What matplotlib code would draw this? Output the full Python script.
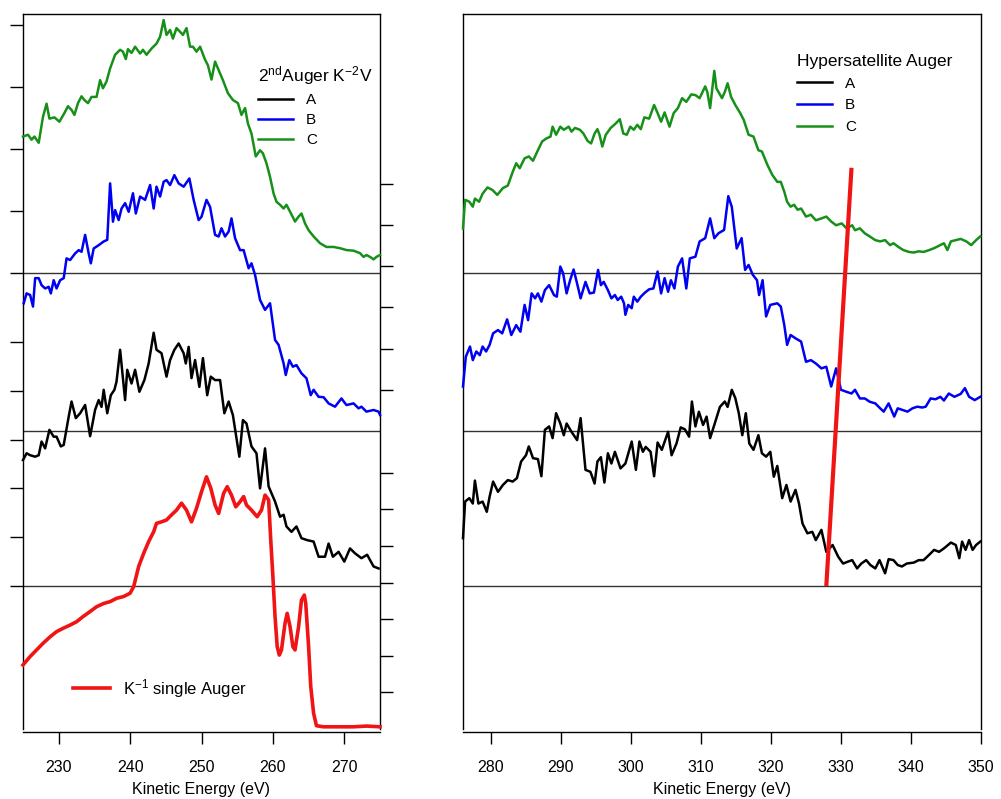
import matplotlib
matplotlib.use("Agg")
import matplotlib.pyplot as plt

plt.rcParams['font.family'] = ['Liberation Sans', 'DejaVu Sans']
plt.rcParams['mathtext.fontset'] = 'custom'
plt.rcParams['mathtext.rm'] = 'Liberation Sans'
plt.rcParams['mathtext.it'] = 'Liberation Sans:italic'
plt.rcParams['axes.linewidth'] = 1.0

# ---------------- data: 2nd Auger K^-2 V spectra (left panel) ----------------
aug2_C_E = [225.0, 225.7, 226.2, 226.6, 227.2, 227.8, 228.3, 228.7, 229.4, 230.1, 230.8, 231.3,
            231.8, 232.2, 232.7, 233.2, 233.6, 234.1, 234.6, 235.3, 235.8, 236.2, 236.7, 237.2,
            237.9, 238.6, 239.0, 239.4, 239.7, 240.2, 240.7, 241.4, 241.8, 242.3, 243.0, 243.7,
            244.2, 244.7, 245.1, 245.6, 246.0, 246.5, 247.0, 247.4, 247.9, 248.4, 248.8, 249.3,
            249.8, 250.5, 250.9, 251.4, 251.9, 252.3, 253.0, 253.7, 254.4, 255.1, 255.6, 256.1,
            256.5, 257.0, 257.6, 258.2, 258.6, 259.1, 259.6, 260.1, 260.5, 261.0, 261.5, 261.9,
            262.4, 263.1, 263.6, 264.0, 264.5, 265.0, 265.7, 266.6, 267.5, 268.5, 269.4, 270.3,
            271.3, 272.2, 272.7, 273.1, 273.6, 274.1, 274.5, 275.0]
aug2_C_I = [2.20, 2.23, 2.15, 2.20, 2.10, 2.52, 2.73, 2.49, 2.51, 2.44, 2.58, 2.69,
            2.63, 2.55, 2.74, 2.85, 2.79, 2.74, 2.84, 2.84, 3.11, 2.98, 3.09, 3.30,
            3.52, 3.60, 3.57, 3.45, 3.61, 3.55, 3.65, 3.54, 3.60, 3.52, 3.62, 3.70,
            3.81, 4.08, 3.84, 3.92, 3.78, 3.95, 3.89, 3.84, 3.95, 3.65, 3.65, 3.57,
            3.65, 3.44, 3.35, 3.12, 3.41, 3.30, 3.11, 2.90, 2.79, 2.74, 2.55, 2.66,
            2.41, 2.25, 1.88, 1.98, 1.93, 1.77, 1.55, 1.28, 1.15, 1.10, 1.04, 1.10,
            0.99, 0.83, 0.91, 0.96, 0.80, 0.69, 0.59, 0.48, 0.42, 0.42, 0.40, 0.37,
            0.36, 0.32, 0.26, 0.29, 0.26, 0.22, 0.26, 0.29]

aug2_B_E = [225.1, 225.5, 226.0, 226.4, 226.7, 227.2, 227.6, 228.1, 228.6, 228.9, 229.3, 229.7,
            230.2, 230.7, 231.1, 231.6, 232.3, 232.8, 233.2, 233.7, 234.2, 234.5, 234.9, 235.6,
            236.3, 236.8, 237.2, 237.6, 237.9, 238.4, 238.8, 239.3, 239.8, 240.4, 240.8, 241.4,
            242.1, 242.8, 243.3, 243.7, 244.2, 244.7, 245.1, 245.6, 246.2, 246.8, 247.5, 248.3,
            248.9, 249.6, 250.0, 250.7, 251.2, 251.9, 252.4, 252.8, 253.3, 253.8, 254.2, 254.7,
            255.4, 255.9, 256.6, 257.0, 257.5, 258.2, 258.9, 259.6, 260.3, 260.8, 261.5, 261.8,
            262.3, 262.8, 263.3, 264.0, 264.7, 265.3, 265.7, 266.4, 267.1, 267.8, 268.7, 269.6,
            270.3, 271.3, 272.0, 272.4, 273.1, 274.1, 274.8, 275.0]
aug2_B_I = [3.10, 3.34, 3.30, 3.02, 3.71, 3.71, 3.54, 3.46, 3.50, 3.34, 3.66, 3.46,
            3.66, 3.71, 4.19, 4.15, 4.31, 4.39, 4.35, 4.76, 4.31, 4.07, 4.43, 4.51,
            4.60, 4.64, 6.01, 5.08, 5.36, 5.12, 5.40, 5.53, 5.32, 5.77, 5.28, 5.69,
            5.61, 5.97, 5.40, 5.93, 5.69, 6.05, 6.09, 5.97, 6.21, 6.01, 5.93, 6.13,
            5.61, 5.12, 5.20, 5.61, 5.44, 4.76, 4.72, 4.92, 4.72, 4.84, 5.16, 4.68,
            4.39, 4.39, 3.95, 4.07, 3.79, 3.18, 2.94, 3.10, 2.21, 2.09, 1.64, 1.36,
            1.72, 1.56, 1.60, 1.40, 1.28, 0.87, 1.00, 0.83, 0.82, 0.67, 0.59, 0.79,
            0.63, 0.67, 0.55, 0.59, 0.47, 0.51, 0.47, 0.39]

aug2_A_E = [225.0, 225.5, 226.0, 226.7, 227.2, 227.6, 228.1, 228.7, 229.3, 229.7, 230.3, 230.7,
            231.4, 231.8, 232.4, 233.0, 233.7, 234.4, 235.1, 235.6, 236.0, 236.3, 236.8, 237.3,
            237.8, 238.1, 238.6, 239.3, 239.6, 240.2, 240.7, 241.3, 242.0, 242.6, 243.3, 243.7,
            244.4, 245.1, 245.6, 246.2, 246.8, 247.5, 247.8, 248.2, 248.6, 249.1, 249.7, 250.2,
            250.8, 251.3, 251.9, 252.6, 253.2, 253.8, 254.4, 255.3, 255.8, 256.3, 257.0, 257.7,
            258.2, 258.9, 259.4, 260.3, 261.0, 261.5, 261.9, 262.6, 263.3, 264.0, 264.8, 265.7,
            266.4, 267.3, 267.8, 268.4, 269.2, 270.0, 270.8, 271.5, 272.4, 273.2, 274.1, 274.8]
aug2_A_I = [2.58, 2.72, 2.68, 2.65, 2.68, 2.96, 2.82, 3.20, 3.06, 3.06, 2.86, 2.89,
            3.47, 3.78, 3.44, 3.54, 3.71, 3.07, 3.61, 3.81, 3.67, 4.02, 3.54, 3.91,
            4.02, 4.19, 4.84, 3.81, 4.43, 4.15, 4.43, 3.98, 4.22, 4.56, 5.19, 4.84,
            4.77, 4.29, 4.63, 4.84, 4.97, 4.77, 4.56, 4.90, 4.26, 4.63, 4.08, 4.67,
            3.91, 4.29, 4.22, 4.22, 3.54, 3.78, 3.50, 2.65, 3.40, 3.33, 2.86, 2.72,
            2.00, 2.82, 2.04, 1.73, 1.42, 1.46, 1.22, 1.11, 1.22, 0.98, 0.94, 0.91,
            0.60, 0.60, 0.87, 0.60, 0.70, 0.50, 0.77, 0.67, 0.57, 0.64, 0.40, 0.36]

# K^-1 single Auger reference spectrum
single_E = [225.0, 226.0, 226.9, 227.8, 228.8, 229.7, 230.6, 231.6, 232.5, 233.4, 234.4, 235.3,
            236.3, 237.2, 238.1, 239.1, 240.0, 240.5, 241.2, 241.9, 242.6, 243.3, 243.7, 244.4,
            245.1, 245.8, 246.5, 247.2, 247.9, 248.6, 249.3, 250.0, 250.7, 251.3, 251.9, 252.4,
            253.1, 253.6, 254.2, 254.8, 255.4, 255.9, 256.3, 257.0, 257.8, 258.4, 258.9, 259.4,
            259.7, 260.0, 260.3, 260.6, 260.9, 261.2, 261.7, 262.0, 262.4, 262.8, 263.1, 263.6,
            264.0, 264.4, 264.6, 265.0, 265.3, 265.7, 266.1, 267.1, 268.9, 271.3, 273.1, 275.0]
single_I = [1.75, 1.98, 2.16, 2.34, 2.52, 2.66, 2.75, 2.84, 2.93, 3.07, 3.21, 3.34,
            3.43, 3.48, 3.57, 3.62, 3.71, 3.89, 4.44, 4.80, 5.12, 5.39, 5.62, 5.66,
            5.71, 5.85, 5.98, 6.17, 5.98, 5.66, 6.03, 6.48, 6.89, 6.58, 6.12, 5.89,
            6.44, 6.62, 6.39, 6.07, 6.21, 6.35, 6.12, 5.98, 5.80, 5.98, 6.39, 6.26,
            5.16, 4.16, 3.07, 2.25, 2.02, 2.16, 2.89, 3.16, 2.80, 2.25, 2.16, 2.80,
            3.52, 3.66, 3.43, 2.25, 1.16, 0.43, 0.09, 0.06, 0.06, 0.06, 0.08, 0.06]

# ---------------- data: hypersatellite Auger spectra (right panel) ----------------
hyp_C_E = [276.0, 276.3, 276.9, 277.4, 277.7, 278.3, 278.8, 279.5, 280.2, 280.9, 281.7, 282.4,
           283.1, 283.6, 284.1, 284.8, 285.4, 286.0, 286.7, 287.3, 287.9, 288.5, 288.8, 289.3,
           289.9, 290.4, 291.1, 291.5, 292.0, 292.7, 293.2, 293.8, 294.3, 294.8, 295.2, 295.5,
           295.9, 296.4, 297.1, 297.8, 298.4, 298.9, 299.4, 299.9, 300.4, 300.9, 301.4, 301.9,
           302.6, 303.3, 303.8, 304.3, 304.8, 305.5, 306.1, 306.7, 307.3, 307.9, 308.6, 309.2,
           309.8, 310.6, 310.9, 311.3, 311.9, 312.2, 313.0, 313.4, 313.8, 314.3, 314.9, 315.6,
           316.1, 316.8, 317.5, 318.2, 318.7, 319.5, 320.2, 320.9, 321.4, 321.9, 322.3, 322.8,
           323.3, 323.8, 324.3, 325.0, 325.7, 326.4, 327.2, 327.9, 328.6, 329.3, 330.1, 330.8,
           331.6, 332.0, 332.7, 333.4, 334.1, 334.9, 335.6, 336.3, 337.0, 337.5, 338.2, 338.9,
           339.7, 340.4, 341.1, 341.8, 342.6, 343.3, 344.0, 344.7, 345.2, 345.7, 346.4, 347.1,
           347.9, 348.6, 349.3, 349.9]
hyp_C_I = [0.72, 1.18, 1.15, 1.07, 1.20, 1.15, 1.28, 1.38, 1.34, 1.26, 1.37, 1.41,
           1.63, 1.77, 1.69, 1.85, 1.88, 1.81, 1.98, 2.12, 2.17, 2.20, 2.36, 2.23,
           2.36, 2.31, 2.36, 2.28, 2.34, 2.31, 2.25, 2.13, 2.09, 2.25, 2.32, 2.23,
           2.04, 2.23, 2.34, 2.41, 2.48, 2.25, 2.23, 2.36, 2.31, 2.39, 2.32, 2.51,
           2.49, 2.71, 2.58, 2.44, 2.59, 2.36, 2.58, 2.66, 2.82, 2.76, 2.88, 2.87,
           2.82, 3.01, 2.92, 2.66, 3.26, 2.98, 2.82, 2.92, 3.06, 2.84, 2.71, 2.58,
           2.47, 2.23, 2.20, 1.98, 1.96, 1.74, 1.58, 1.47, 1.47, 1.31, 1.15, 1.07,
           1.10, 1.02, 1.04, 0.91, 0.94, 0.85, 0.88, 0.91, 0.83, 0.77, 0.80, 0.72,
           0.77, 0.69, 0.72, 0.64, 0.59, 0.53, 0.51, 0.53, 0.45, 0.48, 0.42, 0.37,
           0.34, 0.33, 0.35, 0.34, 0.37, 0.40, 0.44, 0.48, 0.37, 0.51, 0.53, 0.55,
           0.51, 0.45, 0.53, 0.59]

hyp_B_E = [276.0, 276.4, 277.0, 277.4, 277.9, 278.4, 278.8, 279.3, 279.8, 280.3, 281.0, 281.6,
           282.3, 282.9, 283.6, 284.2, 284.8, 285.3, 285.8, 286.3, 286.7, 287.2, 287.7, 288.3,
           289.0, 289.4, 289.9, 290.3, 290.8, 291.3, 291.8, 292.3, 292.8, 293.5, 294.1, 294.7,
           295.3, 295.7, 296.1, 296.7, 297.2, 297.7, 298.1, 298.6, 299.0, 299.2, 299.6, 300.1,
           300.4, 300.9, 301.4, 302.0, 302.6, 303.2, 303.8, 304.3, 304.8, 305.3, 305.7, 306.2,
           306.7, 307.3, 307.9, 308.4, 309.2, 309.8, 310.6, 311.3, 311.9, 312.5, 313.3, 313.9,
           314.4, 315.1, 315.8, 316.3, 316.8, 317.4, 318.0, 318.3, 318.8, 319.3, 319.9, 320.9,
           321.4, 321.9, 322.3, 322.8, 323.5, 324.3, 325.0, 325.7, 326.4, 327.2, 327.9, 328.6,
           329.3, 330.0, 330.8, 331.5, 332.0, 332.7, 333.4, 334.1, 334.9, 335.6, 336.1, 336.8,
           337.6, 338.1, 338.8, 339.5, 340.2, 340.9, 341.6, 342.1, 342.8, 343.5, 344.2, 344.7,
           345.4, 346.2, 347.1, 347.7, 348.3, 349.1, 349.9]
hyp_B_I = [1.08, 1.80, 2.05, 1.72, 1.93, 1.84, 2.05, 1.93, 2.09, 2.37, 2.45, 2.37,
           2.71, 2.33, 2.57, 2.41, 3.06, 2.69, 3.34, 3.22, 3.34, 3.14, 3.42, 3.54,
           3.30, 3.26, 3.99, 3.83, 3.34, 3.66, 3.92, 3.58, 3.22, 3.62, 3.34, 3.36,
           3.91, 3.54, 3.62, 3.42, 3.22, 3.30, 3.18, 3.26, 3.10, 2.82, 3.06, 2.98,
           3.26, 3.14, 3.26, 3.36, 3.44, 3.46, 3.87, 3.34, 3.71, 3.38, 3.66, 3.46,
           3.99, 4.19, 3.46, 4.19, 4.23, 4.60, 4.68, 5.16, 4.68, 4.80, 4.88, 5.70,
           5.44, 4.43, 4.68, 3.91, 4.03, 3.79, 3.66, 3.30, 3.66, 2.78, 3.06, 3.10,
           3.02, 2.57, 2.09, 2.33, 2.25, 2.17, 1.68, 1.72, 1.64, 1.52, 1.56, 1.08,
           1.52, 1.00, 0.95, 0.91, 1.00, 0.79, 0.79, 0.71, 0.67, 0.55, 0.47, 0.67,
           0.35, 0.55, 0.51, 0.47, 0.55, 0.59, 0.57, 0.59, 0.79, 0.77, 0.83, 0.74,
           0.91, 0.83, 0.90, 1.04, 0.83, 0.75, 0.83]

hyp_A_E = [276.0, 276.3, 276.9, 277.4, 277.7, 278.2, 278.8, 279.4, 279.8, 280.3, 281.0, 281.7,
           282.4, 283.1, 283.7, 284.3, 285.0, 285.4, 286.0, 286.7, 287.2, 287.7, 288.3, 288.8,
           289.3, 289.9, 290.4, 290.8, 291.5, 292.3, 292.8, 293.5, 294.2, 294.8, 295.2, 295.7,
           296.2, 296.7, 297.2, 297.7, 298.5, 299.2, 300.1, 300.7, 301.2, 301.7, 302.1, 302.8,
           303.3, 303.8, 304.4, 305.3, 305.8, 306.5, 307.1, 307.7, 308.3, 308.7, 309.2, 309.7,
           310.3, 310.8, 311.3, 311.9, 312.7, 313.4, 313.8, 314.4, 314.9, 315.4, 315.9, 316.4,
           316.9, 317.5, 318.2, 318.7, 319.3, 319.9, 320.4, 320.9, 321.6, 322.2, 322.8, 323.5,
           324.0, 324.5, 325.2, 325.9, 326.4, 327.2, 327.9, 328.8, 329.6, 330.3, 331.0, 331.6,
           332.3, 332.9, 333.6, 334.2, 334.9, 335.5, 336.3, 336.8, 337.5, 338.1, 338.7, 339.4,
           340.4, 341.1, 341.8, 342.6, 343.3, 344.0, 344.7, 345.7, 346.4, 346.9, 347.3, 347.8,
           348.3, 348.8, 349.3, 349.9]
hyp_A_I = [0.98, 1.73, 1.80, 1.69, 2.16, 1.69, 1.73, 1.52, 1.83, 2.14, 1.93, 2.07,
           2.17, 2.14, 2.21, 2.55, 2.68, 2.86, 2.62, 2.60, 2.25, 3.20, 3.27, 3.03,
           3.54, 3.33, 3.09, 3.33, 3.16, 2.99, 3.44, 2.38, 2.34, 2.10, 2.55, 2.64,
           2.12, 2.72, 2.51, 2.75, 2.41, 2.51, 2.96, 2.38, 2.96, 2.75, 2.85, 2.75,
           2.25, 2.94, 2.79, 3.16, 2.68, 2.92, 3.25, 3.21, 3.06, 3.78, 3.27, 3.57,
           3.30, 3.47, 3.03, 3.30, 3.67, 3.78, 3.67, 4.02, 3.85, 3.54, 3.09, 3.54,
           2.92, 2.79, 3.09, 2.72, 2.65, 2.75, 2.24, 2.46, 1.80, 2.07, 1.73, 1.97,
           1.69, 1.28, 1.08, 1.11, 0.94, 1.15, 0.70, 0.84, 0.60, 0.46, 0.50, 0.53,
           0.36, 0.46, 0.53, 0.43, 0.36, 0.53, 0.26, 0.55, 0.53, 0.43, 0.40, 0.46,
           0.48, 0.53, 0.53, 0.64, 0.74, 0.70, 0.77, 0.89, 0.84, 0.57, 0.91, 0.74,
           0.94, 0.74, 0.84, 0.91]

# sloping guide: energy shift of the K^-1 edge across the stacked traces (A-scale units)
guide_E = [327.9, 331.5]
guide_I = [0.0, 8.57]

left_xticks = [230, 240, 250, 260, 270]
right_xticks = [280, 290, 300, 310, 320, 330, 340, 350]

GREEN = '#17901a'
BLUE = '#0000f2'
BLACK = '#000000'
RED = '#f01414'

# ---------------- layout (pixel geometry of a 1001 x 799 canvas) ----------------
W, H = 1001, 799
TOP, BOT = 14, 729
SEPS = [273, 431, 586]

fig = plt.figure(figsize=(W / 100, H / 100), dpi=100)


def rect(x0, x1):
    return [x0 / W, 1 - BOT / H, (x1 - x0) / W, (BOT - TOP) / H]


def frame(x0, x1, xlim, xticks):
    fr = fig.add_axes(rect(x0, x1))
    fr.set_xlim(*xlim)
    fr.set_ylim(0, 1)
    fr.set_yticks([])
    fr.set_xticks(xticks)
    fr.tick_params(axis='x', direction='out', length=8.5, width=1.0,
                   labelsize=11.5, pad=12)
    fr.spines['bottom'].set_position(('outward', 2))
    fr.set_xlabel('Kinetic Energy (eV)', fontsize=11.5, labelpad=5)
    for y in SEPS:
        fr.axhline((BOT - y) / (BOT - TOP), color='#333333', lw=1.0)
    return fr


def overlay(x0, x1, xlim, zero_px, px_per_unit, side=None, ticks=()):
    ax = fig.add_axes(rect(x0, x1))
    ax.patch.set_visible(False)
    for s in ax.spines.values():
        s.set_visible(False)
    ax.set_xlim(*xlim)
    ax.set_ylim((zero_px - BOT) / px_per_unit, (zero_px - TOP) / px_per_unit)
    ax.set_xticks([])
    if side is None:
        ax.set_yticks([])
    else:
        ax.yaxis.set_ticks_position(side)
        ax.set_yticks(list(ticks))
        ax.set_yticklabels([])
        ax.tick_params(axis='y', direction='out', length=9.5, width=1.0)
    return ax


LEG = dict(loc='upper left', bbox_transform=fig.transFigure, frameon=False,
           borderpad=0, borderaxespad=0)

# ---------------- left panel ----------------
LX0, LX1 = 23, 380
lxlim = (225, 275)
fl = frame(LX0, LX1, lxlim, left_xticks)

ax_red = overlay(LX0, LX1, lxlim, 729, 36.6, 'right', range(1, 8))
ax_blk = overlay(LX0, LX1, lxlim, 586, 48.8, 'left', range(0, 6))
ax_blu = overlay(LX0, LX1, lxlim, 431, 41.2, 'right', range(1, 7))
ax_grn = overlay(LX0, LX1, lxlim, 273, 62.0, 'left', range(0, 5))

l_red, = ax_red.plot(single_E, single_I, color=RED, lw=2.6, clip_on=False)
l_A, = ax_blk.plot(aug2_A_E, aug2_A_I, color=BLACK, lw=1.8, clip_on=False)
l_B, = ax_blu.plot(aug2_B_E, aug2_B_I, color=BLUE, lw=1.8, clip_on=False)
l_C, = ax_grn.plot(aug2_C_E, aug2_C_I, color=GREEN, lw=1.8, clip_on=False)

ax_grn.legend([l_A, l_B, l_C], ['A', 'B', 'C'],
              title=r'2$^{\mathrm{nd}}$Auger K$^{\mathrm{-2}}$V',
              bbox_to_anchor=(258 / W, 1 - 64 / H), fontsize=11,
              title_fontsize=12.5, handlelength=2.3, handletextpad=0.85,
              labelspacing=0.4, alignment='left', **LEG)

ax_red.legend([l_red], [r'K$^{\mathrm{-1}}$ single Auger'],
              bbox_to_anchor=(73 / W, 1 - 677 / H), fontsize=12,
              handlelength=2.2, handletextpad=0.8, **LEG)

# ---------------- right panel ----------------
RX0, RX1 = 463, 981
rxlim = (276, 350)
fr = frame(RX0, RX1, rxlim, right_xticks)

bx_blk = overlay(RX0, RX1, rxlim, 586, 48.8)
bx_blu = overlay(RX0, RX1, rxlim, 431, 41.2)
bx_grn = overlay(RX0, RX1, rxlim, 273, 62.0)

r_A, = bx_blk.plot(hyp_A_E, hyp_A_I, color=BLACK, lw=1.8, clip_on=False)
r_B, = bx_blu.plot(hyp_B_E, hyp_B_I, color=BLUE, lw=1.8, clip_on=False)
r_C, = bx_grn.plot(hyp_C_E, hyp_C_I, color=GREEN, lw=1.8, clip_on=False)

bx_guide = overlay(RX0, RX1, rxlim, 586, 48.8)
bx_guide.plot(guide_E, guide_I, color=RED, lw=3.0, solid_capstyle='butt')

bx_grn.legend([r_A, r_B, r_C], ['A', 'B', 'C'], title='Hypersatellite Auger',
              bbox_to_anchor=(797 / W, 1 - 54 / H), fontsize=11,
              title_fontsize=12.5, handlelength=2.3, handletextpad=0.85,
              labelspacing=0.5, alignment='left', **LEG)

fig.savefig('out.png', dpi=100)
